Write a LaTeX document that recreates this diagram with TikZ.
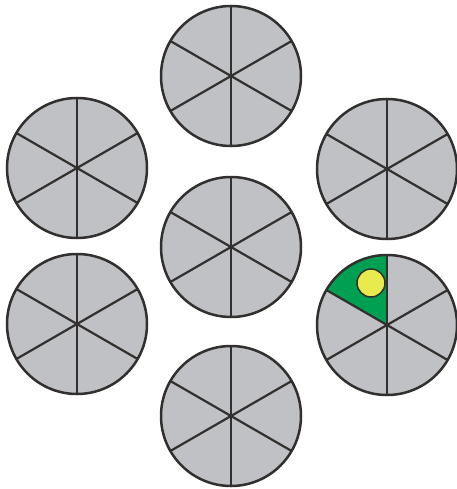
\documentclass[tikz,border=0pt]{standalone}
\definecolor{wheelgray}{RGB}{192,193,197}
\definecolor{edgegray}{RGB}{50,48,46}
\definecolor{sectorgreen}{RGB}{0,160,82}
\definecolor{dotyellow}{RGB}{232,234,78}
\tikzset{
  wheel/.style={circle, minimum size=140pt, inner sep=0pt, outer sep=0pt, fill=wheelgray},
  spoke/.style={draw=edgegray, line width=2.2pt},
  rim/.style={draw=edgegray, line width=2.5pt},
}
\begin{document}
\begin{tikzpicture}[x=1pt,y=-1pt]
\useasboundingbox (0,0) rectangle (456,489);
\node[wheel] (t)  at (231,76)  {};
\node[wheel] (ul) at (77,168)  {};
\node[wheel] (ur) at (387,169) {};
\node[wheel] (c)  at (231,247) {};
\node[wheel] (ll) at (77,324)  {};
\node[wheel] (lr) at (387,325) {};
\node[wheel] (b)  at (231,416) {};
% green sector
\fill[sectorgreen] (lr.center) -- (lr.90) arc[start angle=-90, end angle=-150, radius=70] -- cycle;
\foreach \n in {t,ul,ur,c,ll,lr,b}{
  \draw[spoke] (\n.90) -- (\n.270);
  \draw[spoke] (\n.30) -- (\n.210);
  \draw[spoke] (\n.150) -- (\n.330);
  \draw[rim] (\n.center) circle[radius=70];
}
\node[circle, minimum size=28pt, inner sep=0pt, fill=dotyellow, draw=edgegray, line width=1.5pt] (dot) at (371,283) {};
\end{tikzpicture}
\end{document}
